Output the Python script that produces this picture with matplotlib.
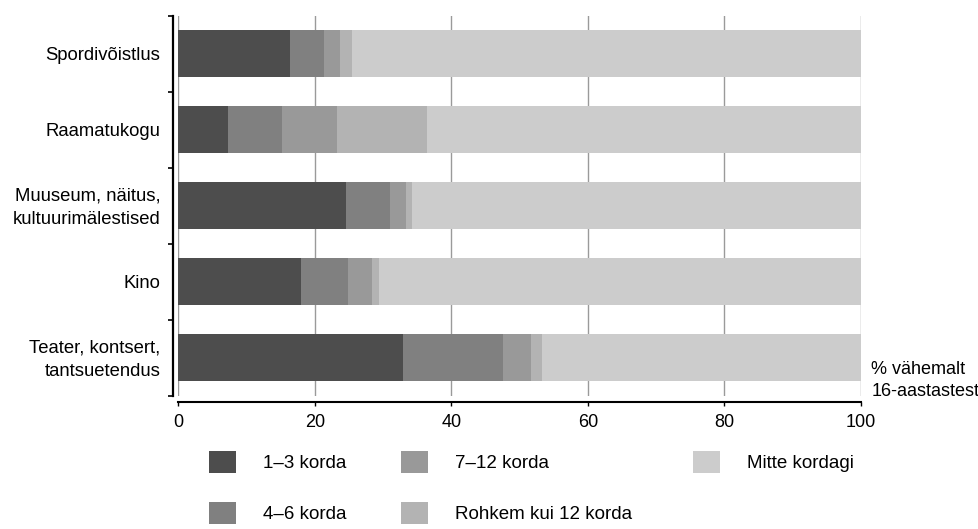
import numpy as np
import matplotlib.pyplot as plt
from matplotlib.patches import Patch
from matplotlib.ticker import FixedLocator

plt.rcParams['font.family'] = ['Liberation Sans', 'DejaVu Sans']

categories = ["Spordivõistlus", "Raamatukogu", "Muuseum, näitus,\nkultuurimälestised",
              "Kino", "Teater, kontsert,\ntantsuetendus"]
series_names = ["1–3 korda", "4–6 korda", "7–12 korda", "Rohkem kui 12 korda", "Mitte kordagi"]
values = {
    "1–3 korda":           [16.4, 7.3, 24.6, 18.0, 32.9],
    "4–6 korda":           [5.0, 7.9, 6.4, 6.9, 14.6],
    "7–12 korda":          [2.3, 8.1, 2.3, 3.5, 4.2],
    "Rohkem kui 12 korda": [1.7, 13.2, 1.0, 1.0, 1.6],
    "Mitte kordagi":       [74.6, 63.5, 65.7, 70.6, 46.7],
}
colors = ["#4d4d4d", "#808080", "#999999", "#b3b3b3", "#cccccc"]
xticks = [0, 20, 40, 60, 80, 100]

W, H = 979, 529
fig = plt.figure(figsize=(W / 100, H / 100), dpi=100)
ax = fig.add_axes([178.3 / W, 1 - 395.7 / H, (861 - 178.3) / W, 380 / H])

y = np.arange(len(categories))
left = np.zeros(len(categories))
for name, col in zip(series_names, colors):
    vals = np.array(values[name])
    ax.barh(y, vals, left=left, height=0.62, color=col, zorder=3)
    left += vals

ax.set_xlim(0, 100)
ax.set_ylim(len(categories) - 0.5, -0.5)
ax.set_xticks(xticks)
ax.tick_params(axis='x', length=3, width=1.0, direction='out', labelsize=13, pad=6)
ax.xaxis.grid(True, color="#9a9a9a", linewidth=1.0, zorder=0)
ax.set_axisbelow(True)

# category boundaries as ticks, labels drawn as text (tick labels ignore linespacing)
ax.yaxis.set_minor_locator(FixedLocator(np.arange(-0.5, len(categories), 1.0)))
ax.tick_params(axis='y', which='minor', length=3.6, width=1.2, direction='out')
ax.set_yticks(y)
ax.tick_params(axis='y', which='major', length=0, labelleft=False)
for yi, lab in zip(y, categories):
    ax.annotate(lab, xy=(0, yi), xycoords=ax.get_yaxis_transform(), xytext=(-13, -1.5),
                textcoords="offset points", ha="right", va="center", fontsize=13.3,
                linespacing=1.55, annotation_clip=False)

for s in ["top", "right"]:
    ax.spines[s].set_visible(False)
ax.spines["left"].set_position(("outward", 3.6))
ax.spines["left"].set_linewidth(1.6)
ax.spines["bottom"].set_position(("outward", 4.3))
ax.spines["bottom"].set_linewidth(1.5)

ax.text(101.5, 4.3, "% vähemalt\n16-aastastest", fontsize=13, ha="left", va="center",
        linespacing=1.45, clip_on=False)

# legend in three columns, placed by hand
cols = [[0, 1], [2, 3], [4]]
xpos = [208.6, 401.5, 692.7]
for idx, xp in zip(cols, xpos):
    handles = [Patch(facecolor=colors[i], edgecolor="none") for i in idx]
    labels = [series_names[i] for i in idx]
    fig.legend(handles, labels, loc="upper left", bbox_to_anchor=(xp / W, 1 - 451 / H),
               frameon=False, fontsize=13.5, handlelength=1.44, handleheight=1.44,
               handletextpad=1.44, labelspacing=1.55, borderpad=0, borderaxespad=0)

fig.savefig("out.png", dpi=100)
